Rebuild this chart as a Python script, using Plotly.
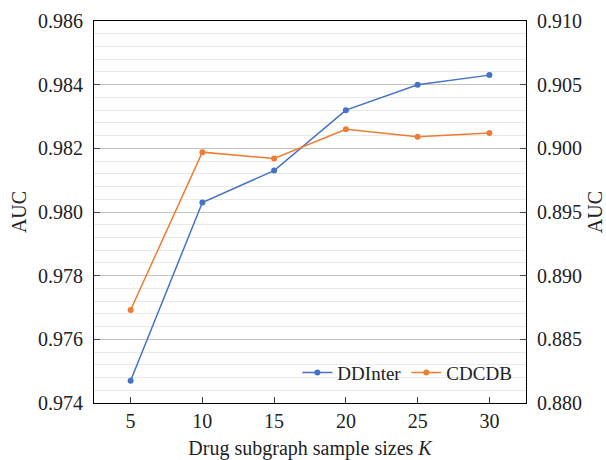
import plotly.graph_objects as go

k_values = [5, 10, 15, 20, 25, 30]
ddinter_auc = [0.9747, 0.9803, 0.9813, 0.9832, 0.9840, 0.9843]
cdcdb_auc = [0.8873, 0.8997, 0.8992, 0.9015, 0.9009, 0.9012]
left_ticks = [0.974, 0.976, 0.978, 0.980, 0.982, 0.984, 0.986]
right_ticks = [0.880, 0.885, 0.890, 0.895, 0.900, 0.905, 0.910]

blue = "#4472C4"
orange = "#ED7D31"
font_family = "Liberation Serif"

fig = go.Figure()
fig.add_trace(go.Scatter(
    x=k_values, y=cdcdb_auc, name="CDCDB", yaxis="y2", mode="lines+markers",
    line=dict(color=orange, width=1.5), marker=dict(size=6, color=orange),
    legendrank=2,
))
fig.add_trace(go.Scatter(
    x=k_values, y=ddinter_auc, name="DDInter", mode="lines+markers",
    line=dict(color=blue, width=1.5), marker=dict(size=6, color=blue),
    legendrank=1,
))

fig.update_layout(
    width=606, height=460,
    margin=dict(l=94, r=80, t=21, b=57),
    paper_bgcolor="white", plot_bgcolor="white",
    font=dict(family=font_family, size=20, color="#222"),
    showlegend=True,
    legend=dict(orientation="h", x=0.98, y=0.03, xanchor="right", yanchor="bottom",
                bgcolor="rgba(0,0,0,0)", font=dict(size=19), itemwidth=30,
                tracegroupgap=0),
    xaxis=dict(
        range=[2.45, 32.55], tickvals=k_values, ticks="inside", ticklen=6,
        showline=True, linecolor="black", linewidth=1.2, mirror=True,
        showgrid=False, zeroline=False, automargin=False,
        title=dict(text="Drug subgraph sample sizes <i>K</i>", font=dict(size=20), standoff=17),
    ),
    yaxis=dict(
        range=[0.974, 0.986], tickvals=left_ticks, tickformat=".3f",
        ticks="inside", ticklen=6, showline=True, linecolor="black", linewidth=1.2,
        showgrid=True, gridcolor="#c4c4c4", gridwidth=1, zeroline=False,
        automargin=False, ticklabelstandoff=6,
        minor=dict(dtick=0.0004, tick0=0.974, showgrid=True, gridcolor="#e8e8e8", gridwidth=1),
        title=dict(text="AUC", font=dict(size=20), standoff=5),
    ),
    yaxis2=dict(
        range=[0.880, 0.910], tickvals=right_ticks, tickformat=".3f",
        overlaying="y", side="right", ticks="inside", ticklen=6,
        showline=True, linecolor="black", linewidth=1.2, showgrid=False, zeroline=False,
        automargin=False, ticklabelstandoff=6,
        title=dict(text="AUC", font=dict(size=20), standoff=9),
    ),
)

fig.write_html("out.html", config={"displayModeBar": False},
               post_script="document.body.style.margin='0';")
